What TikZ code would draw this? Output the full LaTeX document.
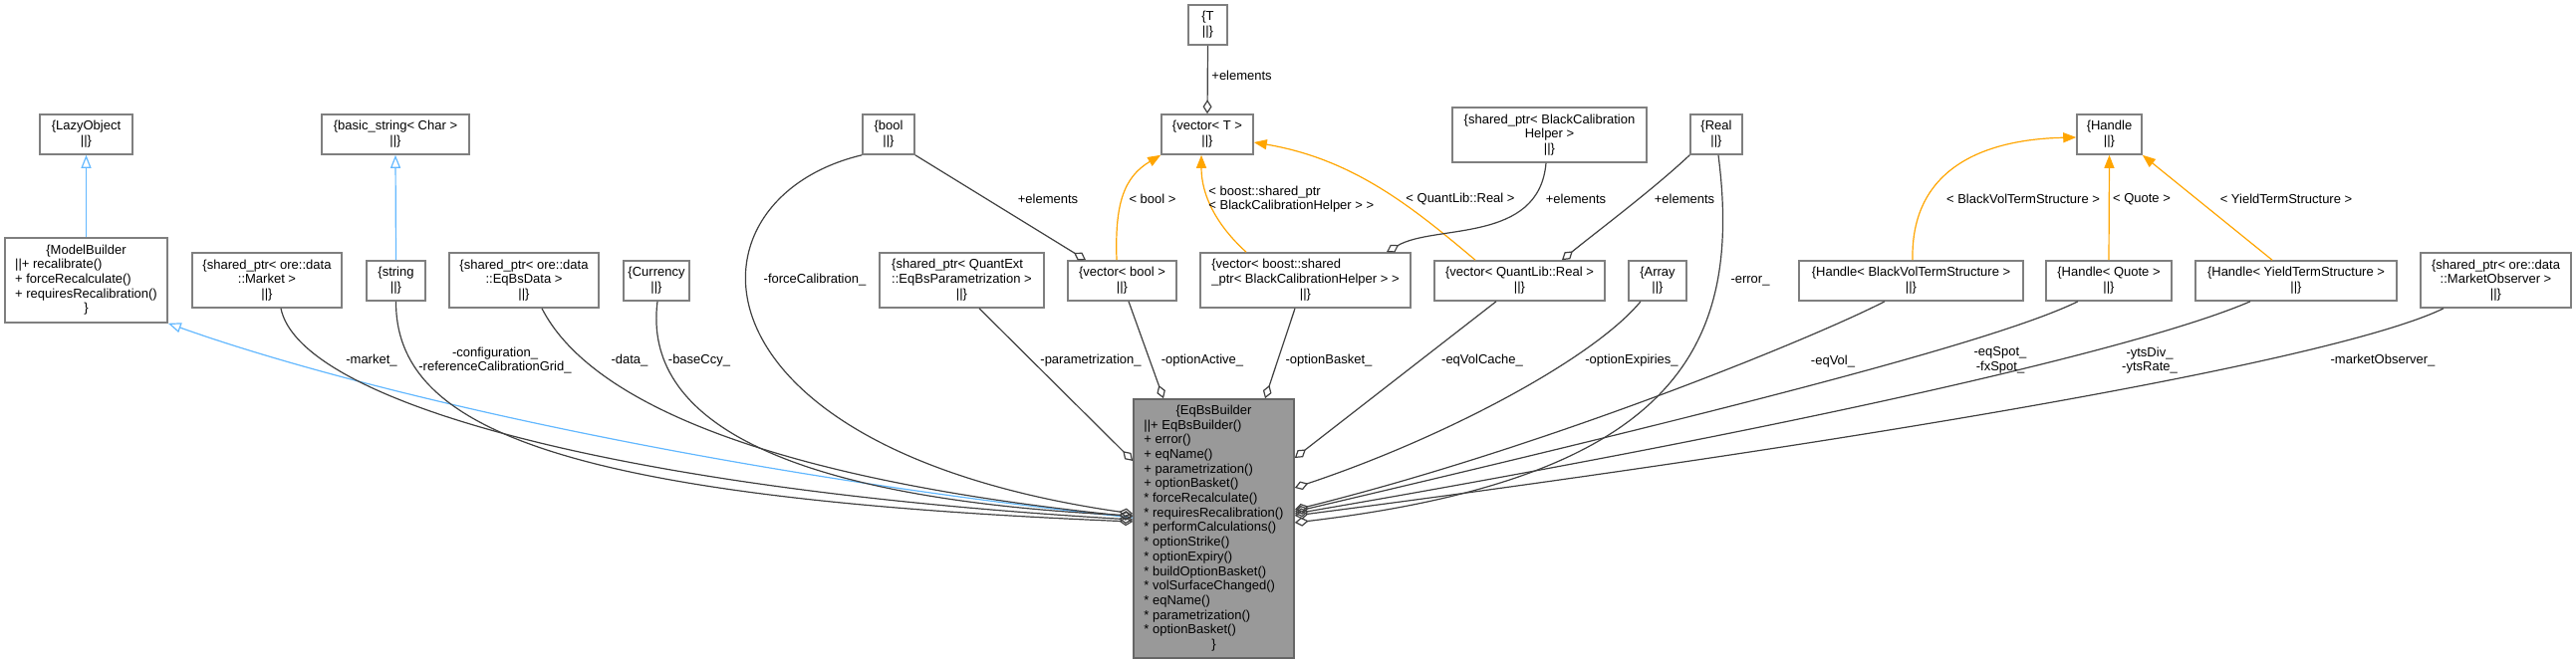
\documentclass[tikz,border=0pt]{standalone}
\usepackage{fontspec}
\setmainfont{Liberation Sans}
\usepackage{tikz}
\usetikzlibrary{arrows.meta}
\definecolor{colboxline}{HTML}{7F7F7F}
\definecolor{colmainline}{HTML}{666666}
\definecolor{colmainfill}{HTML}{999999}
\definecolor{colmember}{HTML}{404040}
\definecolor{colinherit}{HTML}{63B8FF}
\definecolor{coltempl}{HTML}{FFA500}
\newcommand{\pxu}{0.5pt}
\newcommand{\dgfont}{\fontsize{6.5}{7.35}\selectfont}
\tikzstyle{cls}=[draw=colboxline, line width=0.8pt, fill=white, inner sep=0pt, align=center, font=\dgfont]
\tikzstyle{mainclass}=[cls, draw=colmainline, fill=colmainfill]
\tikzstyle{member}=[line width=0.6pt, colmember, -{Diamond[open, length=7pt, width=4.5pt]}]
\tikzstyle{inherit}=[line width=0.6pt, colinherit, -{Triangle[open, length=6.5pt, width=5pt]}]
\tikzstyle{templ}=[line width=0.6pt, coltempl, -{Triangle[length=6.5pt, width=5pt]}]
\tikzstyle{labelsty}=[font=\dgfont, inner sep=0pt, align=center]

\begin{document}
\begin{tikzpicture}[x=\pxu, y=-\pxu]
      \useasboundingbox (0,0) rectangle (2586,667);

      % top row
      \node[cls, minimum width=93*\pxu, minimum height=40*\pxu] (lazyobj) at (86.5,135) {\{LazyObject\\||\}};
      \node[cls, minimum width=148*\pxu, minimum height=40*\pxu] (basicstr) at (397,135) {\{basic\_string< Char >\\||\}};
      \node[cls, minimum width=52*\pxu, minimum height=40*\pxu] (boolnode) at (892,135) {\{bool\\||\}};
      \node[cls, minimum width=39*\pxu, minimum height=40*\pxu] (tnode) at (1212.5,25) {\{T\\||\}};
      \node[cls, minimum width=92*\pxu, minimum height=40*\pxu] (vectT) at (1212,135) {\{vector< T >\\||\}};
      \node[cls, minimum width=195*\pxu, minimum height=55*\pxu] (bchelper) at (1555.5,135.5) {\{shared\_ptr< BlackCalibration\\Helper >\\||\}};
      \node[cls, minimum width=52*\pxu, minimum height=40*\pxu] (realnode) at (1723,135) {\{Real\\||\}};
      \node[cls, minimum width=65*\pxu, minimum height=40*\pxu] (handle) at (2117.5,135) {\{Handle\\||\}};

      % middle row
      \node[cls, minimum width=163*\pxu, minimum height=85*\pxu] (modelb) at (86.5,281.5) {\begin{tabular}{@{}l@{}}
        \multicolumn{1}{@{}c@{}}{\{ModelBuilder}\\
        ||+ recalibrate()\\
        + forceRecalculate()\\
        + requiresRecalibration()\\
        \multicolumn{1}{@{}c@{}}{\}}
      \end{tabular}};
      \node[cls, minimum width=150*\pxu, minimum height=55*\pxu] (market) at (268,281.5) {\{shared\_ptr< ore::data\\::Market >\\||\}};
      \node[cls, minimum width=59*\pxu, minimum height=40*\pxu] (strnode) at (397.5,282) {\{string\\||\}};
      \node[cls, minimum width=150*\pxu, minimum height=55*\pxu] (eqbsdata) at (526,281.5) {\{shared\_ptr< ore::data\\::EqBsData >\\||\}};
      \node[cls, minimum width=66*\pxu, minimum height=40*\pxu] (ccy) at (659,282) {\{Currency\\||\}};
      \node[cls, minimum width=165*\pxu, minimum height=55*\pxu] (param) at (965.5,281.5) {\begin{tabular}{@{}l@{}}
        \{shared\_ptr< QuantExt\\
        ::EqBsParametrization >\\
        \multicolumn{1}{@{}c@{}}{||\}}
      \end{tabular}};
      \node[cls, minimum width=109*\pxu, minimum height=40*\pxu] (vbool) at (1126.5,282) {\{vector< bool >\\||\}};
      \node[cls, minimum width=211*\pxu, minimum height=55*\pxu] (vbch) at (1310.5,281.5) {\begin{tabular}{@{}l@{}}
        \{vector< boost::shared\\
        \_ptr< BlackCalibrationHelper > >\\
        \multicolumn{1}{@{}c@{}}{||\}}
      \end{tabular}};
      \node[cls, minimum width=171*\pxu, minimum height=40*\pxu] (vreal) at (1525.5,282) {\{vector< QuantLib::Real >\\||\}};
      \node[cls, minimum width=58*\pxu, minimum height=40*\pxu] (arr) at (1664,282) {\{Array\\||\}};
      \node[cls, minimum width=225*\pxu, minimum height=40*\pxu] (hbvol) at (1918.5,282) {\{Handle< BlackVolTermStructure >\\||\}};
      \node[cls, minimum width=126*\pxu, minimum height=40*\pxu] (hquote) at (2117,282) {\{Handle< Quote >\\||\}};
      \node[cls, minimum width=202*\pxu, minimum height=40*\pxu] (hyield) at (2305,282) {\{Handle< YieldTermStructure >\\||\}};
      \node[cls, minimum width=151*\pxu, minimum height=55*\pxu] (mobs) at (2505.5,281.5) {\{shared\_ptr< ore::data\\::MarketObserver >\\||\}};

      % the builder itself
      \node[mainclass, minimum width=161*\pxu, minimum height=260*\pxu] (main) at (1218.5,531) {\begin{tabular}{@{}l@{}}
        \multicolumn{1}{@{}c@{}}{\{EqBsBuilder}\\
        ||+ EqBsBuilder()\\
        + error()\\
        + eqName()\\
        + parametrization()\\
        + optionBasket()\\
        {*} forceRecalculate()\\
        {*} requiresRecalibration()\\
        {*} performCalculations()\\
        {*} optionStrike()\\
        {*} optionExpiry()\\
        {*} buildOptionBasket()\\
        {*} volSurfaceChanged()\\
        {*} eqName()\\
        {*} parametrization()\\
        {*} optionBasket()\\
        \multicolumn{1}{@{}c@{}}{\}}
      \end{tabular}};

      % inheritance
      \draw[inherit] (modelb.north) -- (lazyobj.south);
      \draw[inherit] (strnode.north) -- (basicstr.south);
      \draw[inherit] (main.west |- 0,520) .. controls (738,478) and (368,396) .. (modelb.south east);

      % template instances
      \draw[templ] (vbool.north -| 1121,0) .. controls (1119,205) and (1128,178) .. (vectT.south west);
      \draw[templ] (vbch.north -| 1251,0) .. controls (1220,225) and (1206,195) .. (vectT.south -| 1206,0);
      \draw[templ] (vreal.north -| 1481,0) .. controls (1420,210) and (1360,160) .. (vectT.east |- 0,143);
      \draw[templ] (hbvol.north -| 1920,0) .. controls (1918,170) and (1990,140) .. (handle.west |- 0,138);
      \draw[templ] (hquote.north) -- (handle.south);
      \draw[templ] (hyield.north -| 2281,0) -- (handle.south east);

      \node[labelsty] (lbool) at (1157,200) {< bool >};
      \node[labelsty, align=left, anchor=west] (lbch) at (1213,200) {< boost::shared\_ptr\\< BlackCalibrationHelper > >};
      \node[labelsty] (lreal) at (1466,200) {< QuantLib::Real >};
      \node[labelsty] (lbvol) at (2031,200) {< BlackVolTermStructure >};
      \node[labelsty] (lquote) at (2150,200) {< Quote >};
      \node[labelsty] (lyield) at (2295,200) {< YieldTermStructure >};

      % elements
      \draw[member] (tnode.south) -- (vectT.north);
      \draw[member] (boolnode.south east) -- (vbool.north -| 1090,0);
      \draw[member] (bchelper.south -| 1552,0) .. controls (1545,245) and (1440,225) .. (vbch.north -| 1392,0);
      \draw[member] (realnode.south west) .. controls (1660,190) and (1600,235) .. (vreal.north -| 1568,0);

      \node[labelsty, anchor=west] (lelemT) at (1216,76) {+elements};
      \node[labelsty] (lelembool) at (1052,200) {+elements};
      \node[labelsty] (lelembch) at (1582,200) {+elements};
      \node[labelsty] (lelemreal) at (1691,200) {+elements};

      % members of the builder, left side
      \draw[member] (market.south -| 282,0) .. controls (300,400) and (600,490) .. (main.west |- 0,522);
      \draw[member] (strnode.south) .. controls (397,430) and (560,500) .. (main.west |- 0,524);
      \draw[member] (eqbsdata.south -| 544,0) .. controls (590,400) and (760,480) .. (main.west |- 0,519);
      \draw[member] (ccy.south -| 660,0) .. controls (645,420) and (780,500) .. (main.west |- 0,518);
      \draw[member] (boolnode.south west) .. controls (680,200) and (680,450) .. (main.west |- 0,516);
      \draw[member] (param.south -| 983,0) -- (main.west |- 0,463);

      % top
      \draw[member] (vbool.south -| 1133,0) -- (main.north -| 1168,0);
      \draw[member] (vbch.south -| 1300,0) -- (main.north -| 1270,0);

      % right side
      \draw[member] (vreal.south -| 1502,0) -- (main.east |- 0,460);
      \draw[member] (arr.south -| 1647,0) .. controls (1600,360) and (1450,440) .. (main.east |- 0,490);
      \draw[member] (realnode.south -| 1725,0) .. controls (1750,350) and (1680,480) .. (main.east |- 0,525);
      \draw[member] (hbvol.south -| 1892,0) .. controls (1820,340) and (1550,450) .. (main.east |- 0,512);
      \draw[member] (hquote.south -| 2086,0) .. controls (2000,345) and (1700,420) .. (main.east |- 0,514);
      \draw[member] (hyield.south -| 2259,0) .. controls (2150,350) and (1800,430) .. (main.east |- 0,516);
      \draw[member] (mobs.south -| 2453,0) .. controls (2350,360) and (1900,440) .. (main.east |- 0,518);

      \node[labelsty] (lforce) at (818,281) {-forceCalibration\_};
      \node[labelsty] (lerror) at (1757,282) {-error\_};
      \node[labelsty] (lmarket) at (373,362) {-market\_};
      \node[labelsty] (lconfig) at (497,362) {-configuration\_\\-referenceCalibrationGrid\_};
      \node[labelsty] (ldata) at (632,362) {-data\_};
      \node[labelsty] (lccy) at (702,362) {-baseCcy\_};
      \node[labelsty] (lparam) at (1095,362) {-parametrization\_};
      \node[labelsty] (lactive) at (1207,362) {-optionActive\_};
      \node[labelsty] (lbasket) at (1334,362) {-optionBasket\_};
      \node[labelsty] (lcache) at (1488,362) {-eqVolCache\_};
      \node[labelsty] (lexpiries) at (1638,362) {-optionExpiries\_};
      \node[labelsty] (leqvol) at (1840,363) {-eqVol\_};
      \node[labelsty] (lspot) at (2008,362) {-eqSpot\_\\-fxSpot\_};
      \node[labelsty] (lyts) at (2158,362) {-ytsDiv\_\\-ytsRate\_};
      \node[labelsty] (lobs) at (2392,362) {-marketObserver\_};
    \end{tikzpicture}
\end{document}
